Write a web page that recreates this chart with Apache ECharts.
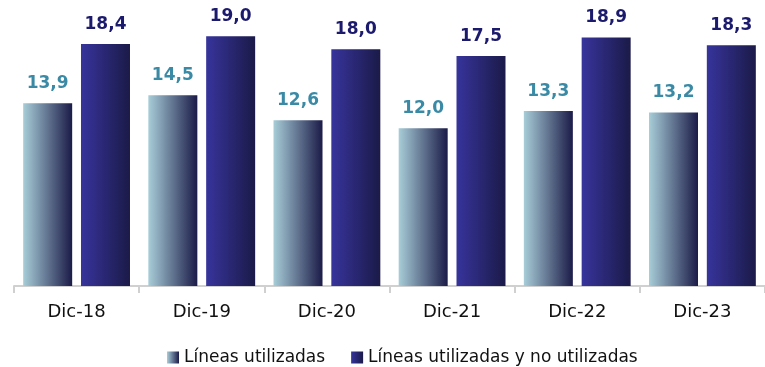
<!DOCTYPE html>
<html lang="es">
<head>
    <meta charset="UTF-8">
    <title>Líneas utilizadas</title>
    <script src="https://cdn.jsdelivr.net/npm/echarts@6.0.0/dist/echarts.min.js"></script>
    <style>
        * { margin: 0; padding: 0; }
        body { background: #fff; }
        #chart { width: 765px; height: 367px; }
    </style>
</head>
<body>
    <div id="chart"></div>
    <script>
        const periods = ['Dic-18', 'Dic-19', 'Dic-20', 'Dic-21', 'Dic-22', 'Dic-23'];
        const usedLines = [13.9, 14.5, 12.6, 12.0, 13.3, 13.2];
        const allLines = [18.4, 19.0, 18.0, 17.5, 18.9, 18.3];

        const chart = echarts.init(document.getElementById('chart'));

        const fmt = p => p.value.toFixed(1).replace('.', ',');
        const grad = (a, b) => new echarts.graphic.LinearGradient(0, 0, 1, 0, [
            { offset: 0, color: a },
            { offset: 1, color: b }
        ]);

        chart.setOption({
            animation: false,
            textStyle: { fontFamily: 'DejaVu Sans' },
            grid: { left: 14, top: 23, width: 761, bottom: 81 },
            legend: {
                top: 344,
                left: 162,
                itemWidth: 12,
                itemHeight: 12,
                itemGap: 26,
                textStyle: { fontSize: 17, color: '#111' },
                data: [
                    { name: 'Líneas utilizadas', icon: 'rect' },
                    { name: 'Líneas utilizadas y no utilizadas', icon: 'rect' }
                ]
            },
            xAxis: {
                type: 'category',
                data: periods,
                axisLine: { lineStyle: { color: '#d0d0d0', width: 2 } },
                axisTick: { show: true, length: 7, lineStyle: { color: '#d0d0d0', width: 2 } },
                axisLabel: { fontSize: 18, color: '#111', margin: 17 }
            },
            yAxis: {
                type: 'value',
                min: 0,
                max: 20,
                show: false
            },
            series: [
                {
                    name: 'Líneas utilizadas',
                    type: 'bar',
                    data: usedLines,
                    barWidth: 49,
                    barGap: '18%',
                    itemStyle: { color: grad('#a8cdd8', '#1b1b48') },
                    label: {
                        show: true,
                        position: 'top',
                        distance: 11,
                        formatter: fmt,
                        fontSize: 17,
                        fontWeight: 'bold',
                        color: '#3a8aa6'
                    }
                },
                {
                    name: 'Líneas utilizadas y no utilizadas',
                    type: 'bar',
                    data: allLines,
                    barWidth: 49,
                    itemStyle: { color: grad('#37349c', '#1b1a48') },
                    label: {
                        show: true,
                        position: 'top',
                        distance: 11,
                        formatter: fmt,
                        fontSize: 17,
                        fontWeight: 'bold',
                        color: '#1c1a6c'
                    }
                }
            ]
        });
    </script>
</body>
</html>
